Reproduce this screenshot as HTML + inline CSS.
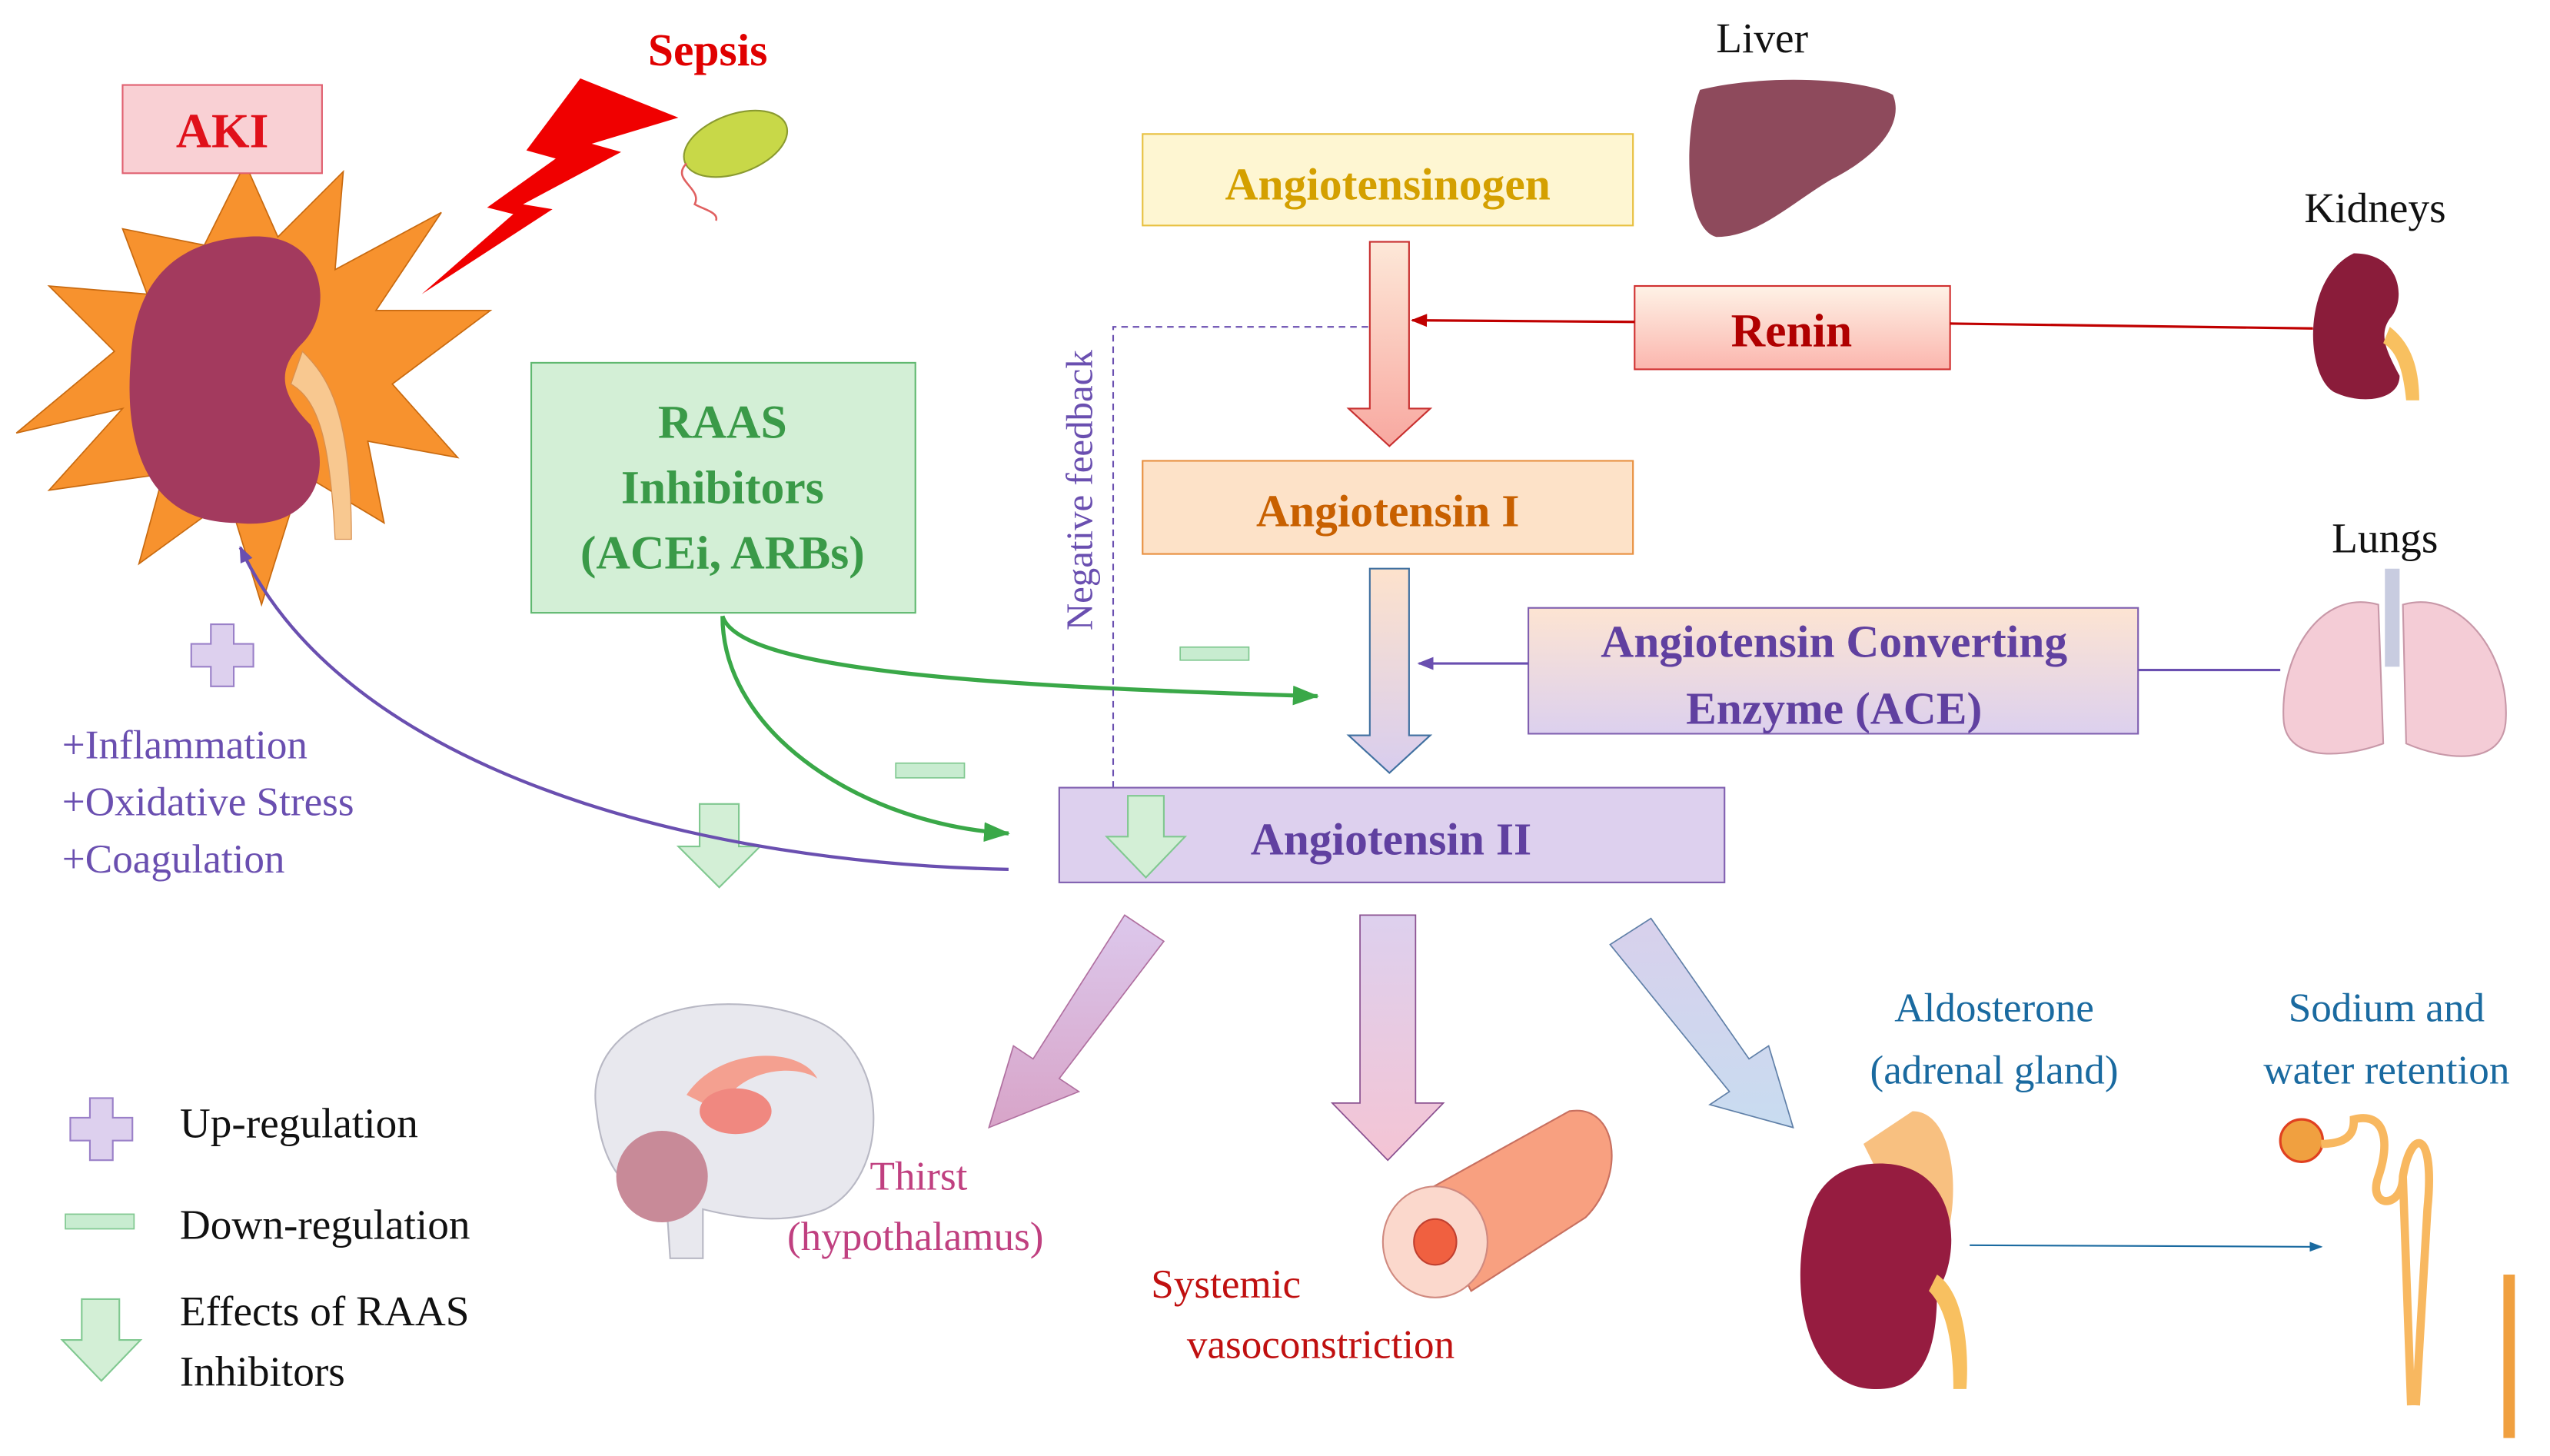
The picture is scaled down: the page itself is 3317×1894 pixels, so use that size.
<!DOCTYPE html>
<html><head><meta charset="utf-8"><style>
html,body{margin:0;padding:0;background:#fff;}
svg{display:block;}
svg text{font-family:"Liberation Serif","Times New Roman",serif;}
.b{font-weight:bold;}
</style></head><body>
<svg width="3317" height="1894" viewBox="0 0 1560 891" preserveAspectRatio="none" xmlns="http://www.w3.org/2000/svg" font-family="Liberation Serif, Times New Roman, serif">
<defs>
<linearGradient id="g1" x1="0" y1="0" x2="0" y2="1"><stop offset="0" stop-color="#fde8d8"/><stop offset="1" stop-color="#f8a8a0"/></linearGradient>
<linearGradient id="g2" x1="0" y1="0" x2="0" y2="1"><stop offset="0" stop-color="#fde2cc"/><stop offset="1" stop-color="#d8cdee"/></linearGradient>
<linearGradient id="gr" x1="0" y1="0" x2="0" y2="1"><stop offset="0" stop-color="#fef2e6"/><stop offset="1" stop-color="#fbb6ae"/></linearGradient>
<linearGradient id="ga" x1="0" y1="0" x2="0" y2="1"><stop offset="0" stop-color="#fde4d2"/><stop offset="1" stop-color="#dcd0ee"/></linearGradient>
<linearGradient id="gl" x1="0" y1="0" x2="0" y2="1"><stop offset="0" stop-color="#dcc8ec"/><stop offset="1" stop-color="#d8a4c8"/></linearGradient>
<linearGradient id="gm" x1="0" y1="0" x2="0" y2="1"><stop offset="0" stop-color="#ddd0ee"/><stop offset="1" stop-color="#f4c4d4"/></linearGradient>
<linearGradient id="gq" x1="0" y1="0" x2="0" y2="1"><stop offset="0" stop-color="#d8d0ec"/><stop offset="1" stop-color="#c8dcf0"/></linearGradient>
<marker id="ar" markerWidth="10" markerHeight="8" refX="9" refY="4" orient="auto" markerUnits="userSpaceOnUse"><path d="M0,0 L10,4 L0,8 z" fill="#c00000"/></marker>
<marker id="ap" markerWidth="10" markerHeight="8" refX="9" refY="4" orient="auto" markerUnits="userSpaceOnUse"><path d="M0,0 L10,4 L0,8 z" fill="#6a4fb0"/></marker>
<marker id="ag" markerWidth="16" markerHeight="12" refX="15" refY="6" orient="auto" markerUnits="userSpaceOnUse"><path d="M0,0 L16,6 L0,12 z" fill="#3aa848"/></marker>
<marker id="ab" markerWidth="8" markerHeight="6" refX="7" refY="3" orient="auto" markerUnits="userSpaceOnUse"><path d="M0,0 L8,3 L0,6 z" fill="#1a6aa0"/></marker>
</defs>

<polygon points="210,105 205,165 270,130 230,190 300,190 240,235 280,280 225,270 235,320 185,290 160,370 140,305 85,345 100,290 30,300 75,250 10,265 70,215 30,175 90,180 75,140 125,150 150,100 170,145" fill="#f7922e" stroke="#c86a10" stroke-width="0.8"/>
<path d="M150,145 C200,140 205,190 185,210 C170,225 170,240 190,260 C205,290 190,325 145,320 C95,320 75,280 80,220 C82,175 105,148 150,145 z" fill="#a33a5e"/>
<path d="M185,215 C200,230 215,250 215,330 L205,330 C202,270 195,245 178,235 z" fill="#f8c890" stroke="#d89050" stroke-width="0.6"/>
<rect x="75" y="52" width="122" height="54" fill="#f9d0d4" stroke="#e06070" stroke-width="1"/>
<text x="136" y="90" font-size="30" fill="#e0101a" class="b" text-anchor="middle">AKI</text>
<polygon points="258,180 338,128 320,125 380,93 362,88 415,72 355,48 322,92 340,97 298,127 314,131" fill="#f00000"/>
<ellipse cx="450" cy="88" rx="33" ry="18" transform="rotate(-20 450 88)" fill="#c8d848" stroke="#8a9a30" stroke-width="1"/>
<path d="M420,100 C410,110 430,115 425,125 C430,128 440,130 438,135" stroke="#e06060" fill="none" stroke-width="1.2"/>
<text x="433" y="40" font-size="28" fill="#e00000" class="b" text-anchor="middle">Sepsis</text>

<path d="M129,382 h14 v12 h12 v14 h-12 v12 h-14 v-12 h-12 v-14 h12 z" fill="#ddd0ee" stroke="#9a80c8" stroke-width="1"/>
<text x="38" y="464" font-size="25" fill="#6a4fb0">+Inflammation</text>
<text x="38" y="499" font-size="25" fill="#6a4fb0">+Oxidative Stress</text>
<text x="38" y="534" font-size="25" fill="#6a4fb0">+Coagulation</text>

<rect x="325" y="222" width="235" height="153" fill="#d3efd6" stroke="#60b870" stroke-width="1"/>
<text x="442" y="268" font-size="29" fill="#3a9a48" class="b" text-anchor="middle">RAAS</text>
<text x="442" y="308" font-size="29" fill="#3a9a48" class="b" text-anchor="middle">Inhibitors</text>
<text x="442" y="348" font-size="29" fill="#3a9a48" class="b" text-anchor="middle">(ACEi, ARBs)</text>

<path d="M428,492 h24 v26 h13 l-25,25 l-25,-25 h13 z" fill="#d3efd6" stroke="#80c890" stroke-width="1"/>
<path d="M617,532 C420,528 210,470 147,335" fill="none" stroke="#6a4fb0" stroke-width="2" marker-end="url(#ap)"/>
<path d="M442,377 C452,410 600,420 806,426" fill="none" stroke="#3aa848" stroke-width="2.5" marker-end="url(#ag)"/>
<path d="M442,377 C442,450 530,505 617,510" fill="none" stroke="#3aa848" stroke-width="2.5" marker-end="url(#ag)"/>
<rect x="722" y="396" width="42" height="8" fill="#c8ecd0" stroke="#80c890" stroke-width="0.8"/>
<rect x="548" y="467" width="42" height="9" fill="#c8ecd0" stroke="#80c890" stroke-width="0.8"/>

<path d="M681,482 V200 H838" fill="none" stroke="#6a4fb0" stroke-width="1" stroke-dasharray="4,3"/>
<text transform="translate(668,300) rotate(-90)" font-size="23" fill="#6a4fb0" text-anchor="middle">Negative feedback</text>

<rect x="699" y="82" width="300" height="56" fill="#fef6d2" stroke="#e8c040" stroke-width="1"/>
<text x="849" y="122" font-size="28" fill="#d4a000" class="b" text-anchor="middle">Angiotensinogen</text>
<path d="M1040,55 C1080,45 1140,48 1158,58 C1165,75 1150,95 1120,110 C1095,125 1075,145 1050,145 C1030,140 1030,80 1040,55 z" fill="#8e4a5c"/>
<text x="1078" y="32" font-size="26" fill="#111" text-anchor="middle">Liver</text>

<path d="M838,148 h24 v102 h13 l-25,23 l-25,-23 h13 z" fill="url(#g1)" stroke="#c83030" stroke-width="1"/>
<rect x="1000" y="175" width="193" height="51" fill="url(#gr)" stroke="#d03030" stroke-width="1"/>
<text x="1096" y="212" font-size="29" fill="#b00000" class="b" text-anchor="middle">Renin</text>
<line x1="1000" y1="197" x2="864" y2="196" stroke="#c00000" stroke-width="1.5" marker-end="url(#ar)"/>
<line x1="1193" y1="198" x2="1415" y2="201" stroke="#c00000" stroke-width="1.5"/>
<text x="1453" y="136" font-size="26" fill="#111" text-anchor="middle">Kidneys</text>
<path d="M1440,155 C1470,155 1472,185 1462,195 C1455,205 1460,215 1468,230 C1468,245 1445,248 1428,240 C1410,230 1408,170 1440,155 z" fill="#8a1c3a"/>
<path d="M1462,200 C1475,210 1480,225 1480,245 L1472,245 C1470,225 1466,215 1458,210 z" fill="#f8c060"/>

<rect x="699" y="282" width="300" height="57" fill="#fde2c8" stroke="#e89040" stroke-width="1"/>
<text x="849" y="322" font-size="28" fill="#c86000" class="b" text-anchor="middle">Angiotensin I</text>
<path d="M838,348 h24 v102 h13 l-25,23 l-25,-23 h13 z" fill="url(#g2)" stroke="#4070a0" stroke-width="1"/>

<rect x="935" y="372" width="373" height="77" fill="url(#ga)" stroke="#8060b0" stroke-width="1"/>
<text x="1122" y="402" font-size="28" fill="#6040a0" class="b" text-anchor="middle">Angiotensin Converting</text>
<text x="1122" y="443" font-size="28" fill="#6040a0" class="b" text-anchor="middle">Enzyme (ACE)</text>
<line x1="935" y1="406" x2="868" y2="406" stroke="#6a4fb0" stroke-width="1.5" marker-end="url(#ap)"/>
<line x1="1308" y1="410" x2="1395" y2="410" stroke="#6a4fb0" stroke-width="1.5"/>
<text x="1459" y="338" font-size="26" fill="#111" text-anchor="middle">Lungs</text>
<path d="M1455,370 C1420,360 1395,400 1397,440 C1398,465 1430,465 1458,455 z" fill="#f4ccd6" stroke="#c898a8" stroke-width="1"/>
<path d="M1470,370 C1505,360 1535,400 1533,440 C1532,470 1495,465 1472,455 z" fill="#f4ccd6" stroke="#c898a8" stroke-width="1"/>
<rect x="1459" y="348" width="9" height="60" fill="#c8cce0"/>

<rect x="648" y="482" width="407" height="58" fill="#ddd0ee" stroke="#8060b0" stroke-width="1"/>
<path d="M690,487 h22 v25 h13 l-24,25 l-24,-25 h13 z" fill="#d3efd6" stroke="#80c890" stroke-width="1"/>
<text x="851" y="523" font-size="28" fill="#6040a0" class="b" text-anchor="middle">Angiotensin II</text>

<path d="M688,560 L712,576 L648,660 L660,668 L605,690 L620,640 L632,648 z" fill="url(#gl)" stroke="#b070a0" stroke-width="0.8"/>
<path d="M832,560 h34 v115 h17 l-34,35 l-34,-35 h17 z" fill="url(#gm)" stroke="#8a5090" stroke-width="0.8"/>
<path d="M985,578 L1010,562 L1070,648 L1082,640 L1097,690 L1046,676 L1058,668 z" fill="url(#gq)" stroke="#6080a8" stroke-width="0.8"/>

<path d="M365,680 C355,620 440,600 500,625 C545,645 545,720 505,740 C480,750 450,745 430,740 L430,770 L410,770 L408,740 C380,730 368,710 365,680 z" fill="#e8e8ee" stroke="#b8b8c4" stroke-width="1"/>
<path d="M420,670 C440,640 490,640 500,660 C485,650 450,655 440,680 z" fill="#f4a090"/>
<ellipse cx="450" cy="680" rx="22" ry="14" fill="#f08880"/>
<ellipse cx="405" cy="720" rx="28" ry="28" fill="#c88a98"/>
<text x="562" y="728" font-size="25" fill="#c04080" text-anchor="middle">Thirst</text>
<text x="560" y="765" font-size="25" fill="#c04080" text-anchor="middle">(hypothalamus)</text>

<path d="M870,730 L960,680 C990,675 995,720 970,745 L900,790 z" fill="#f8a080" stroke="#c87060" stroke-width="1"/>
<ellipse cx="878" cy="760" rx="32" ry="34" fill="#fbd8cc" stroke="#d08a80" stroke-width="1"/>
<ellipse cx="878" cy="760" rx="13" ry="14" fill="#f06040" stroke="#c04030" stroke-width="1"/>
<text x="750" y="794" font-size="25" fill="#c01010" text-anchor="middle">Systemic</text>
<text x="808" y="831" font-size="25" fill="#c01010" text-anchor="middle">vasoconstriction</text>

<text x="1220" y="625" font-size="25" fill="#1a6aa0" text-anchor="middle">Aldosterone</text>
<text x="1220" y="663" font-size="25" fill="#1a6aa0" text-anchor="middle">(adrenal gland)</text>
<path d="M1170,680 C1195,680 1200,730 1190,760 L1160,740 L1140,700 z" fill="#f8c080"/>
<path d="M1150,712 C1200,712 1200,770 1185,790 C1185,820 1180,852 1145,850 C1105,848 1095,790 1105,750 C1110,725 1125,712 1150,712 z" fill="#961c40"/>
<path d="M1185,780 C1200,790 1205,820 1203,850 L1195,850 C1195,820 1190,800 1180,790 z" fill="#f8c060"/>
<line x1="1205" y1="762" x2="1420" y2="763" stroke="#1a6aa0" stroke-width="1" marker-end="url(#ab)"/>
<text x="1460" y="625" font-size="25" fill="#1a6aa0" text-anchor="middle">Sodium and</text>
<text x="1460" y="663" font-size="25" fill="#1a6aa0" text-anchor="middle">water retention</text>
<circle cx="1408" cy="698" r="13" fill="#f0a040" stroke="#e04020" stroke-width="1.5"/>
<path d="M1420,700 C1440,700 1440,690 1440,685 C1460,680 1462,700 1455,720 C1448,740 1470,740 1470,720 C1475,690 1490,690 1485,740 L1478,860 M1470,720 L1475,860" fill="none" stroke="#f8b860" stroke-width="5"/>
<path d="M1535,780 L1535,880" stroke="#f0a040" stroke-width="7"/>

<path d="M55,672 h14 v12 h12 v14 h-12 v12 h-14 v-12 h-12 v-14 h12 z" fill="#ddd0ee" stroke="#9a80c8" stroke-width="1"/>
<text x="110" y="696" font-size="26" fill="#111">Up-regulation</text>
<rect x="40" y="743" width="42" height="9" fill="#c8ecd0" stroke="#80c890" stroke-width="0.8"/>
<text x="110" y="758" font-size="26" fill="#111">Down-regulation</text>
<path d="M50,795 h23 v25 h13 l-24,25 l-24,-25 h12 z" fill="#d3efd6" stroke="#80c890" stroke-width="1"/>
<text x="110" y="811" font-size="26" fill="#111">Effects of RAAS</text>
<text x="110" y="848" font-size="26" fill="#111">Inhibitors</text>
</svg>
</body></html>
